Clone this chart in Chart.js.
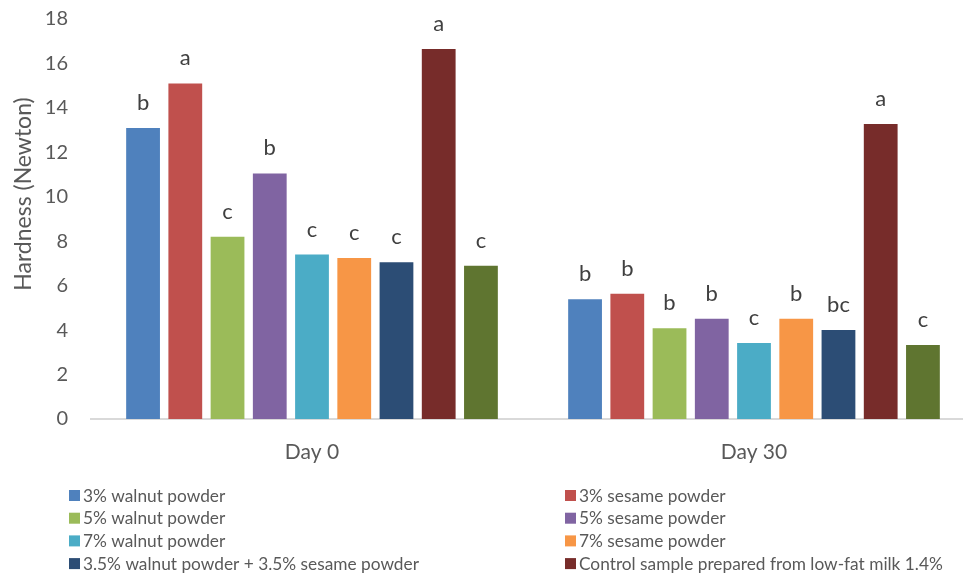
<!DOCTYPE html>
<html>
<head>
<meta charset="utf-8">
<script src="https://cdn.jsdelivr.net/npm/chart.js@4"></script>
<style>
    html, body { margin: 0; padding: 0; background: #fff; overflow: hidden; }
    #wrap { width: 985px; height: 575px; position: relative; }
</style>
</head>
<body>
<div id="wrap"><canvas id="hardnessChart"></canvas></div>
<script>
var categories = ["Day 0", "Day 30"];
var seriesNames = [
    "3% walnut powder",
    "3% sesame powder",
    "5% walnut powder",
    "5% sesame powder",
    "7% walnut powder",
    "7% sesame powder",
    "3.5% walnut powder + 3.5% sesame powder",
    "Control sample prepared from low-fat milk 1.4%",
    "",
];
var day0Values = [13.1, 15.1, 8.2, 11.05, 7.4, 7.25, 7.05, 16.65, 6.9];
var day30Values = [5.39, 5.64, 4.08, 4.51, 3.42, 4.51, 4.0, 13.27, 3.33];
var day0Letters = ["b", "a", "c", "b", "c", "c", "c", "a", "c"];
var day30Letters = ["b", "b", "b", "b", "c", "b", "bc", "a", "c"];
var yTicks = [0, 2, 4, 6, 8, 10, 12, 14, 16, 18];
var yTitle = "Hardness (Newton)";

var colors = [
    "#4f81bd",
    "#c0504d",
    "#9bbb59",
    "#8064a2",
    "#4bacc6",
    "#f79646",
    "#2c4d75",
    "#772c2a",
    "#5f7530",
];

var fontName = "Lato, 'Open Sans', sans-serif";
var textColor = "#595959";

var datasets = [];
for (let i = 0; i < seriesNames.length; i++) {
    datasets.push({
        label: seriesNames[i],
        data: [day0Values[i], day30Values[i]],
        letters: [day0Letters[i], day30Letters[i]],
        backgroundColor: colors[i],
        categoryPercentage: 0.86,
        barPercentage: 0.8,
    });
}

// letters above each bar
var letterPlugin = {
    id: "letters",
    afterDatasetsDraw(chart) {
        var ctx = chart.ctx;
        ctx.save();
        ctx.font = "22px " + fontName;
        ctx.fillStyle = "#404040";
        ctx.textAlign = "center";
        ctx.textBaseline = "alphabetic";
        chart.data.datasets.forEach((ds, i) => {
            chart.getDatasetMeta(i).data.forEach((bar, j) => {
                ctx.fillText(ds.letters[j], bar.x, bar.y - 18);
            });
        });
        ctx.restore();
    },
};

// y title sits a bit above the middle of the plot, so draw it by hand
var yTitlePlugin = {
    id: "yTitle",
    afterDraw(chart) {
        var ctx = chart.ctx;
        ctx.save();
        ctx.translate(24, 194);
        ctx.rotate(-Math.PI / 2);
        ctx.font = "23px " + fontName;
        ctx.fillStyle = textColor;
        ctx.textAlign = "center";
        ctx.textBaseline = "middle";
        ctx.fillText(yTitle, 0, 0);
        ctx.restore();
    },
};

// two column legend under the chart (only the first eight entries are shown)
var legendPlugin = {
    id: "twoColLegend",
    afterDraw(chart) {
        var ctx = chart.ctx;
        ctx.save();
        ctx.font = "17.3px " + fontName;
        ctx.textBaseline = "middle";
        ctx.textAlign = "left";
        chart.data.datasets.slice(0, 8).forEach((ds, i) => {
            var x = i % 2 == 0 ? 69 : 565;
            var y = 495 + Math.floor(i / 2) * 22.7;
            ctx.fillStyle = ds.backgroundColor;
            ctx.fillRect(x, y - 5, 11, 11);
            ctx.fillStyle = textColor;
            ctx.fillText(ds.label, x + 14, y + 1);
        });
        ctx.restore();
    },
};

var ctx = document.getElementById("hardnessChart");
var myChart = new Chart(ctx, {
    type: "bar",
    data: {
        labels: categories,
        datasets: datasets,
    },
    options: {
        responsive: true,
        maintainAspectRatio: false,
        animation: false,
        layout: {
            padding: { top: 19, left: 0, right: 10, bottom: 0 },
        },
        plugins: {
            legend: { display: false },
            tooltip: { enabled: false },
        },
        scales: {
            x: {
                grid: { display: false },
                border: { display: true, color: "#d9d9d9", width: 2 },
                ticks: {
                    color: textColor,
                    font: { family: fontName, size: 21 },
                    padding: 13,
                },
                afterFit: (scale) => {
                    scale.height = 156;
                },
            },
            y: {
                min: 0,
                max: 18,
                afterBuildTicks: (scale) => {
                    scale.ticks = yTicks.map((v) => ({ value: v }));
                },
                grid: { display: false },
                border: { display: false },
                ticks: {
                    color: textColor,
                    font: { family: fontName, size: 20 },
                    padding: 15,
                },
                afterFit: (scale) => {
                    scale.width = 91;
                    scale.paddingTop = 0;
                    scale.paddingBottom = 0;
                },
            },
        },
    },
    plugins: [letterPlugin, yTitlePlugin, legendPlugin],
});
</script>
</body>
</html>
